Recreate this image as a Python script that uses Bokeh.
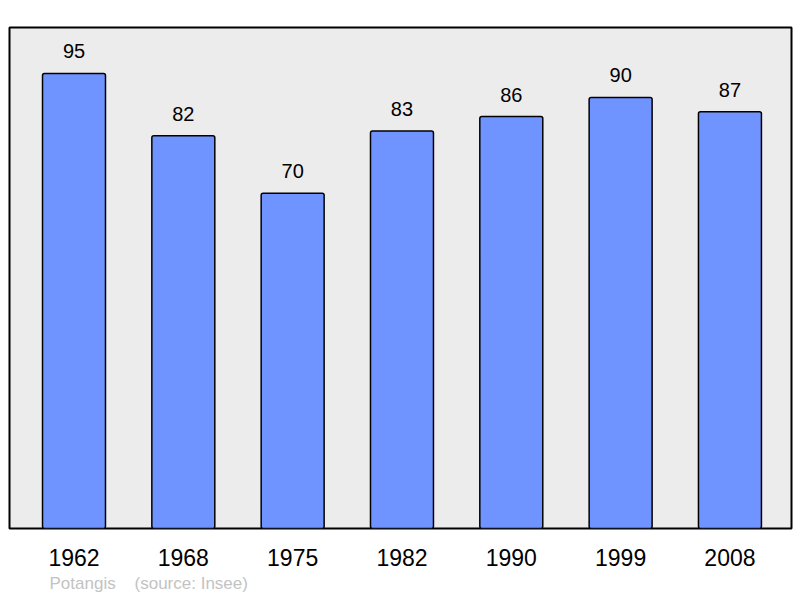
from bokeh.plotting import figure
from bokeh.models import Range1d, FixedTicker, Title, ColumnDataSource
from bokeh.core.properties import value
from bokeh.embed import file_html
from bokeh.resources import INLINE

years = ["1962", "1968", "1975", "1982", "1990", "1999", "2008"]
population = [95, 82, 70, 83, 86, 90, 87]
commune = "Potangis"
source_note = "(source: Insee)"

positions = list(range(len(years)))
src = ColumnDataSource(dict(x=positions, top=population, label=[str(v) for v in population]))

p = figure(width=800, height=598, output_backend="svg", toolbar_location=None,
           x_range=Range1d(-0.59, 6.563), y_range=Range1d(0, 104.6),
           y_axis_location=None,
           min_border_left=9, min_border_right=9, min_border_top=27, min_border_bottom=70)

p.background_fill_color = "#ececec"
p.border_fill_color = "white"
p.outline_line_color = "black"
p.outline_line_width = 2
p.xgrid.visible = False
p.ygrid.visible = False

p.vbar(x="x", top="top", width=0.576, bottom=0, source=src,
       fill_color="#7094ff", line_color="black", line_width=1.5, border_radius=2)

p.text(x="x", y="top", text="label", source=src, text_align="center",
       text_baseline="alphabetic", y_offset=-22,
       text_font=value("Liberation Sans"), text_font_size="20px", text_color="black")

ax = p.xaxis[0]
ax.ticker = FixedTicker(ticks=positions)
ax.major_label_overrides = {i: y for i, y in zip(positions, years)}
ax.axis_line_color = None
ax.major_tick_line_color = None
ax.minor_tick_line_color = None
ax.major_label_standoff = 14
ax.major_label_text_font = "Liberation Sans"
ax.major_label_text_font_size = "23px"
ax.major_label_text_color = "black"

footer = Title(text=commune + "\u00a0" * 4 + source_note, align="left", offset=40,
               standoff=7, text_font="Liberation Sans", text_font_size="17px",
               text_font_style="normal", text_color="#c3c3c3")
p.add_layout(footer, "below")

open("out.html", "w").write(file_html(p, INLINE))
